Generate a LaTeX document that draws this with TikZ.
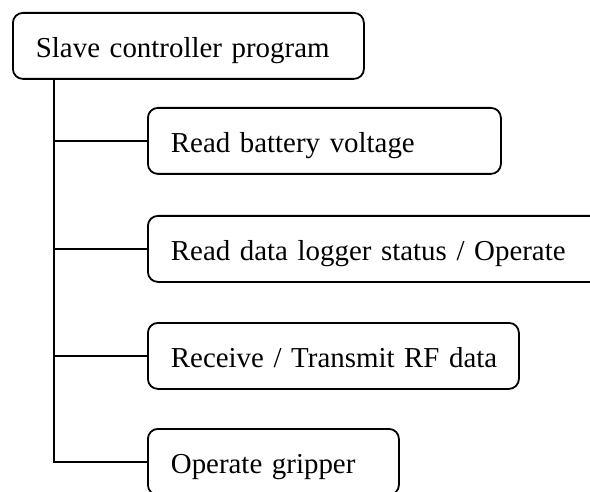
\documentclass[tikz,border=0pt]{standalone}
\usepackage{fontspec}
\setmainfont{Liberation Serif}
\begin{document}
\begin{tikzpicture}[x=1bp,y=-1bp,
  task/.style={draw, line width=1.8bp, rounded corners=10bp, anchor=north west,
    minimum height=66bp, inner xsep=23bp, inner ysep=0pt, align=left,
    text height=25bp, text depth=1bp,
    font=\fontsize{29}{34}\selectfont},
  link/.style={line width=1.6bp}]
\useasboundingbox (0,0) rectangle (590,492);
\clip (0,0) rectangle (590,492);
% program tree
\node[task, text width=305bp] (root) at (12,12) {\mbox{Slave controller program}};
\node[task, text width=307bp] (b2) at (147,107) {\mbox{Read battery voltage}};
\node[task, text width=414bp] (b3) at (147,215) {\mbox{Read data logger status / Operate}};
\node[task, text width=325bp] (b4) at (147,322) {\mbox{Receive / Transmit RF data}};
\node[task, text width=205bp] (b5) at (147,428) {\mbox{Operate gripper}};
% trunk and branches
\coordinate (tx) at (54,0);
\draw[link] (root.south -| tx) |- (b5.west);
\foreach \b in {b2,b3,b4}
  \draw[link] (\b.west -| tx) -- (\b.west);
\end{tikzpicture}
\end{document}
